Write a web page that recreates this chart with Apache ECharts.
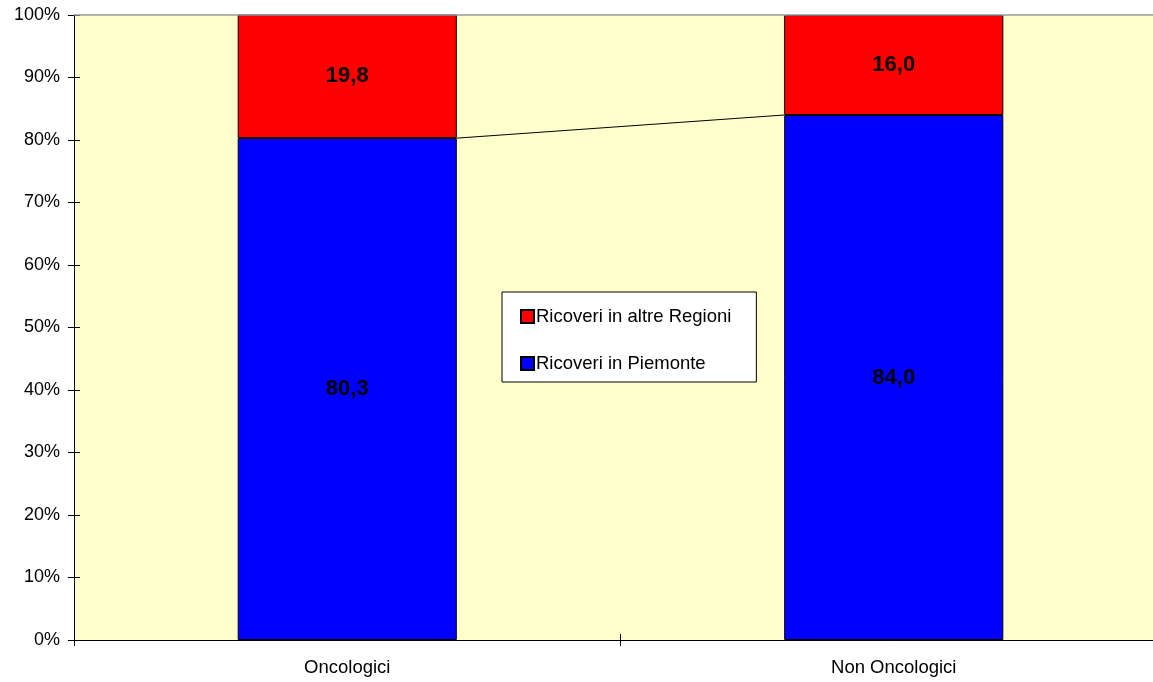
<!DOCTYPE html>
<html>
<head>
<meta charset="utf-8">
<script src="https://cdn.jsdelivr.net/npm/echarts@6/dist/echarts.min.js"></script>
<style>
html,body{margin:0;padding:0;background:#fff;overflow:hidden;width:1153px;height:682px;}
#c{width:1167px;height:682px;}
</style>
</head>
<body>
<div id="c"></div>
<script>
const categories = ['Oncologici', 'Non Oncologici'];
const piemonte = [80.3, 84.0];
const altreRegioni = [19.8, 16.0];
const yTicks = [0, 10, 20, 30, 40, 50, 60, 70, 80, 90, 100];

const FONT = '"Liberation Sans", Arial, sans-serif';
const BAR_W = 0.401;

const chart = echarts.init(document.getElementById('c'));

function fmt(v) { return v.toFixed(1).replace('.', ','); }

const yMin = yTicks[0], yMax = yTicks[yTicks.length - 1];

const option = {
  animation: false,
  backgroundColor: '#ffffff',
  textStyle: { fontFamily: FONT },
  grid: {
    left: 74, right: 0, top: 15, bottom: 42,
    show: true, backgroundColor: '#FFFFCC', borderWidth: 0
  },
  legend: {
    orient: 'vertical',
    left: 502, top: 292,
    data: ['Ricoveri in altre Regioni', 'Ricoveri in Piemonte'],
    icon: 'rect',
    backgroundColor: '#ffffff',
    borderColor: '#000000', borderWidth: 1,
    padding: [15, 25, 9, 18],
    itemGap: 28,
    itemWidth: 13, itemHeight: 13,
    textStyle: { fontSize: 18.5, color: '#000', fontFamily: FONT, padding: [0, 0, 0, -3] }
  },
  xAxis: [{
    type: 'category',
    data: categories,
    axisLine: { lineStyle: { color: '#000', width: 1 } },
    axisTick: { show: true, length: 6, lineStyle: { color: '#000' } },
    axisLabel: { color: '#000', fontSize: 18.5, fontFamily: FONT, margin: 18 },
    splitLine: { show: false }
  }, {
    type: 'category',
    data: categories,
    position: 'bottom',
    axisLine: { show: false },
    axisTick: { show: true, inside: true, length: 6, lineStyle: { color: '#000' } },
    axisLabel: { show: false },
    splitLine: { show: false }
  }],
  yAxis: [{
    type: 'value',
    min: yMin, max: yMax, interval: 10,
    axisLine: { show: true, lineStyle: { color: '#000', width: 1 } },
    axisTick: { show: true, length: 6, lineStyle: { color: '#000' } },
    axisLabel: { color: '#000', fontSize: 18, fontFamily: FONT, margin: 14, formatter: '{value}%' },
    splitLine: { show: false }
  }, {
    type: 'value',
    position: 'left',
    min: yMin, max: yMax, interval: 10,
    axisLine: { show: false },
    axisTick: { show: true, inside: true, length: 6, lineStyle: { color: '#000' } },
    axisLabel: { show: false },
    splitLine: { show: false }
  }],
  series: [
    {
      name: 'Ricoveri in Piemonte',
      type: 'bar',
      stack: 'tot',
      data: piemonte,
      barWidth: (BAR_W * 100) + '%',
      itemStyle: { color: '#0000FF', borderColor: '#000', borderWidth: 1 },
      label: {
        show: true, position: 'inside', color: '#000', fontSize: 22, fontWeight: 'bold',
        fontFamily: FONT, formatter: p => fmt(p.value)
      },
      markLine: {
        silent: true, symbol: 'none', label: { show: false },
        lineStyle: { color: '#999', type: 'solid', width: 1.5 },
        data: [{ yAxis: 100 }]
      }
    },
    {
      name: 'Ricoveri in altre Regioni',
      type: 'bar',
      stack: 'tot',
      data: altreRegioni,
      barWidth: (BAR_W * 100) + '%',
      itemStyle: { color: '#FF0000', borderColor: '#000', borderWidth: 1 },
      label: {
        show: true, position: 'inside', color: '#000', fontSize: 22, fontWeight: 'bold',
        fontFamily: FONT, formatter: p => fmt(p.value)
      }
    },
    {
      name: 'seriesLines',
      type: 'custom',
      silent: true,
      z: 5,
      data: piemonte.slice(0, piemonte.length - 1).map((v, i) => [i, v, piemonte[i + 1]]),
      renderItem: function (params, api) {
        const i = api.value(0);
        const bw = api.size([1, 0])[0] * BAR_W / 2;
        const p1 = api.coord([i, api.value(1)]);
        const p2 = api.coord([i + 1, api.value(2)]);
        return {
          type: 'line',
          shape: { x1: p1[0] + bw, y1: p1[1], x2: p2[0] - bw, y2: p2[1] },
          style: { stroke: '#000', lineWidth: 1 }
        };
      }
    }
  ]
};
chart.setOption(option);
</script>
</body>
</html>
